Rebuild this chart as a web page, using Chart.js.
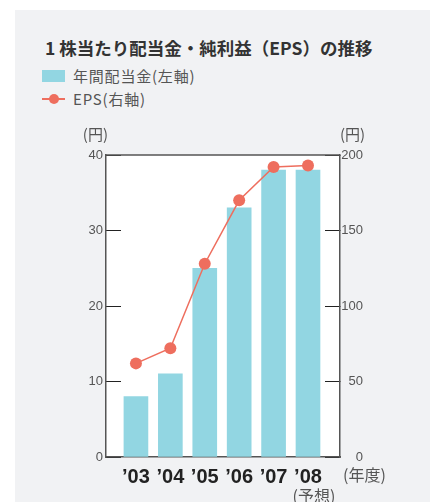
<!DOCTYPE html>
<html lang="ja">
<head>
<meta charset="utf-8">
<script src="https://cdn.jsdelivr.net/npm/chart.js@4.4.0/dist/chart.umd.min.js"></script>
<style>
body { margin: 0; background: #fff; font-family: "Noto Sans CJK JP", sans-serif; }
.panel { position: absolute; left: 15px; top: 10px; width: 415px; height: 492px; background: #f1f2f4; }
canvas { position: absolute; left: 0; top: 0; }
.title { position: absolute; left: 45px; top: 39px; margin: 0; font-size: 17.5px; line-height: 18px; font-weight: 700; color: #333; white-space: nowrap; }
.leg { position: absolute; left: 42px; height: 16px; font-size: 15px; line-height: 16px; color: #555; white-space: nowrap; letter-spacing: 0.8px; }
.leg span { position: absolute; left: 31px; top: 0; }
.swatch { position: absolute; left: 0; top: 2px; width: 23px; height: 12px; background: #92d6e2; }
.lline { position: absolute; left: 0; top: 7px; width: 23px; height: 2px; background: #ee6e5e; }
.ldot { position: absolute; left: 7px; top: 3px; width: 10px; height: 10px; border-radius: 50%; background: #ee6e5e; }
</style>
</head>
<body>
<div class="panel"></div>
<div class="title">1 株当たり配当金・純利益（EPS）の推移</div>
<div class="leg" style="top:68px"><div class="swatch"></div><span>年間配当金(左軸)</span></div>
<div class="leg" style="top:91px"><div class="lline"></div><div class="ldot"></div><span>EPS(右軸)</span></div>
<canvas id="chart" width="436" height="502"></canvas>
<script>
// Data
const years = ['’03', '’04', '’05', '’06', '’07', '’08'];
const dividend = [8, 11, 25, 33, 38, 38];
const eps = [62, 72, 128, 170, 192, 193];
const leftTicks = [0, 10, 20, 30, 40];
const rightTicks = [0, 50, 100, 150, 200];

const tickFont = { family: '"Liberation Sans", sans-serif', size: 13 };
const axisColor = '#555';

// White plot area, top border and extra labels
const decor = {
    id: 'decor',
    beforeDraw(chart) {
        const { ctx, chartArea: a } = chart;
        ctx.save();
        ctx.fillStyle = '#fff';
        ctx.fillRect(a.left, a.top, a.right - a.left, a.bottom - a.top);
        ctx.restore();
    },
    afterDraw(chart) {
        const { ctx, chartArea: a, scales } = chart;
        ctx.save();
        ctx.strokeStyle = axisColor;
        ctx.lineWidth = 1.5;
        ctx.beginPath();
        ctx.moveTo(a.left, a.top);
        ctx.lineTo(a.right, a.top);
        ctx.stroke();

        ctx.fillStyle = '#555';
        ctx.font = '15px "Noto Sans CJK JP"';
        ctx.textBaseline = 'middle';
        ctx.textAlign = 'right';
        ctx.fillText('(円)', a.left + 2, a.top - 21);
        ctx.textAlign = 'left';
        ctx.fillText('(円)', a.right, a.top - 21);
        ctx.font = '16px "Noto Sans CJK JP"';
        ctx.fillText('(年度)', a.right + 3, a.bottom + 18);
        ctx.textAlign = 'center';
        ctx.fillText('(予想)', scales.x.getPixelForValue(years.length - 1) + 6, a.bottom + 39);
        ctx.restore();
    }
};

const ctx = document.getElementById('chart').getContext('2d');
new Chart(ctx, {
    type: 'bar',
    data: {
        datasets: [{
            type: 'line',
            label: 'EPS(右軸)',
            data: eps.map((v, i) => ({ x: i, y: v })),
            yAxisID: 'y1',
            borderColor: '#ee6e5e',
            backgroundColor: '#ee6e5e',
            borderWidth: 1.5,
            pointRadius: 6,
            pointBorderWidth: 0,
            tension: 0,
            order: 0
        }, {
            label: '年間配当金(左軸)',
            data: dividend.map((v, i) => ({ x: i, y: v })),
            yAxisID: 'y',
            backgroundColor: '#92d6e2',
            barThickness: 24,
            order: 1
        }]
    },
    options: {
        responsive: false,
        devicePixelRatio: 1,
        animation: false,
        layout: { padding: { top: 155, left: 0, right: 73, bottom: 0 } },
        plugins: {
            legend: { display: false },
            tooltip: { enabled: false }
        },
        scales: {
            x: {
                type: 'linear',
                offset: false,
                bounds: 'data',
                min: -0.87,
                max: 5.93,
                grid: { display: false, drawTicks: false },
                border: { display: true, color: axisColor, width: 1.5 },
                afterBuildTicks: (s) => { s.ticks = years.map((y, i) => ({ value: i })); },
                ticks: {
                    autoSkip: false,
                    maxRotation: 0,
                    padding: 8,
                    color: '#222',
                    font: { family: '"Liberation Sans", sans-serif', size: 20, weight: 'bold' },
                    callback: (v) => years[v] ?? ''
                },
                afterFit: (s) => { s.height = 45; }
            },
            y: {
                position: 'left',
                min: 0,
                max: 40,
                afterBuildTicks: (s) => { s.ticks = leftTicks.map(v => ({ value: v })); },
                grid: { drawOnChartArea: false, tickLength: -15, color: '#222', lineWidth: 1 },
                border: { display: true, color: axisColor, width: 1.5 },
                ticks: { padding: 18, color: '#555', font: tickFont },
                afterFit: (s) => { s.width = 106; }
            },
            y1: {
                position: 'right',
                min: 0,
                max: 200,
                afterBuildTicks: (s) => { s.ticks = rightTicks.map(v => ({ value: v })); },
                grid: { drawOnChartArea: false, tickLength: -15, color: '#222', lineWidth: 1 },
                border: { display: true, color: axisColor, width: 1.5 },
                ticks: { padding: 16, crossAlign: 'far', color: '#555', font: tickFont },
                afterFit: (s) => { s.width = 23; }
            }
        }
    },
    plugins: [decor]
});
</script>
</body>
</html>
